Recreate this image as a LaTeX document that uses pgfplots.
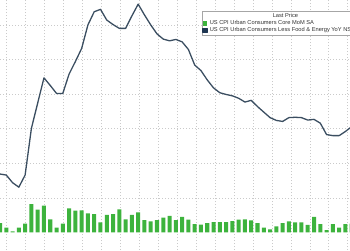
\documentclass[border=0pt]{standalone}
\usepackage{pgfplots}
\pgfplotsset{compat=1.18}
\usepackage{fontspec}
\setmainfont{Liberation Sans}
\definecolor{barg}{HTML}{3DB33D}
\definecolor{linec}{HTML}{3B4E61}
\definecolor{navy}{HTML}{1E3652}
\definecolor{gridc}{HTML}{CACACA}
\begin{document}
\begin{tikzpicture}
\begin{axis}[
  width=350pt, height=250pt, scale only axis,
  xmin=1, xmax=56.73, ymin=-0.506, ymax=6.72,
  axis line style={draw=none},
  major tick length=0pt,
  xticklabel=\empty, yticklabel=\empty,
  xtick={2.07,5.09,8.10,11.12,14.13,17.15,20.17,23.18,26.20,29.21,32.23,35.25,38.26,41.28,44.29,47.31,50.33,53.34,56.36},
  ytick={1,2,3,4,5,6},
  grid=major,
  major grid style={draw=gridc, line width=0.6pt, dash pattern=on 0.9pt off 2.1pt},
  legend style={at={(0.576,0.956)}, anchor=north west, draw=gray!70, fill=white,
    font=\fontsize{5.7}{6.2}\selectfont, text=black!80,
    inner sep=0.4pt, row sep=-2.6pt, legend cell align=left},
  legend cell align=left,
]
\addlegendimage{empty legend}
\addlegendentry{\hspace*{63pt}Last Price}
\addplot[ybar, bar width=0.64, fill=barg, draw=none,
  legend image code/.code={\fill[barg] (0pt,-2.1pt) rectangle (4.3pt,2.1pt);}]
coordinates {
(1,0.27) (2,0.14) (3,0.03) (4,0.14) (5,0.26) (6,0.82) (7,0.66) (8,0.78) (9,0.38) (10,0.14)
(11,0.26) (12,0.70) (13,0.63) (14,0.64) (15,0.55) (16,0.53) (17,0.29) (18,0.51) (19,0.53) (20,0.67)
(21,0.38) (22,0.51) (23,0.58) (24,0.36) (25,0.32) (26,0.36) (27,0.43) (28,0.48) (29,0.36) (30,0.45)
(31,0.37) (32,0.24) (33,0.23) (34,0.27) (35,0.30) (36,0.30) (37,0.30) (38,0.33) (39,0.37) (40,0.38)
(41,0.35) (42,0.27) (43,0.14) (44,0.09) (45,0.18) (46,0.27) (47,0.32) (48,0.29) (49,0.29) (50,0.22)
(51,0.45) (52,0.24) (53,0.07) (54,0.24) (55,0.14) (56,0.24) (57,0.26)
};
\addlegendentry{US CPI Urban Consumers Core MoM SA}
\addplot[color=linec, line width=1.3pt, line join=round,
  legend image code/.code={\fill[navy] (0pt,-2.1pt) rectangle (4.3pt,2.1pt);}]
coordinates {
(1,1.69) (2,1.66) (3,1.44) (4,1.31) (5,1.66) (6,3.01) (7,3.74) (8,4.47) (9,4.25) (10,4.02)
(11,4.02) (12,4.58) (13,4.94) (14,5.32) (15,6.00) (16,6.38) (17,6.45) (18,6.14) (19,6.01) (20,5.90)
(21,5.90) (22,6.26) (23,6.60) (24,6.29) (25,6.00) (26,5.74) (27,5.59) (28,5.54) (29,5.58) (30,5.51)
(31,5.29) (32,4.84) (33,4.68) (34,4.41) (35,4.18) (36,4.04) (37,3.99) (38,3.95) (39,3.88) (40,3.77)
(41,3.82) (42,3.64) (43,3.48) (44,3.32) (45,3.24) (46,3.21) (47,3.32) (48,3.33) (49,3.32) (50,3.25)
(51,3.27) (52,3.16) (53,2.83) (54,2.80) (55,2.80) (56,2.92) (57,3.06)
};
\addlegendentry{US CPI Urban Consumers Less Food \& Energy YoY NSA}
\end{axis}
\pgfresetboundingbox
\useasboundingbox (0,0) rectangle (350pt,250pt);
\end{tikzpicture}
\end{document}
